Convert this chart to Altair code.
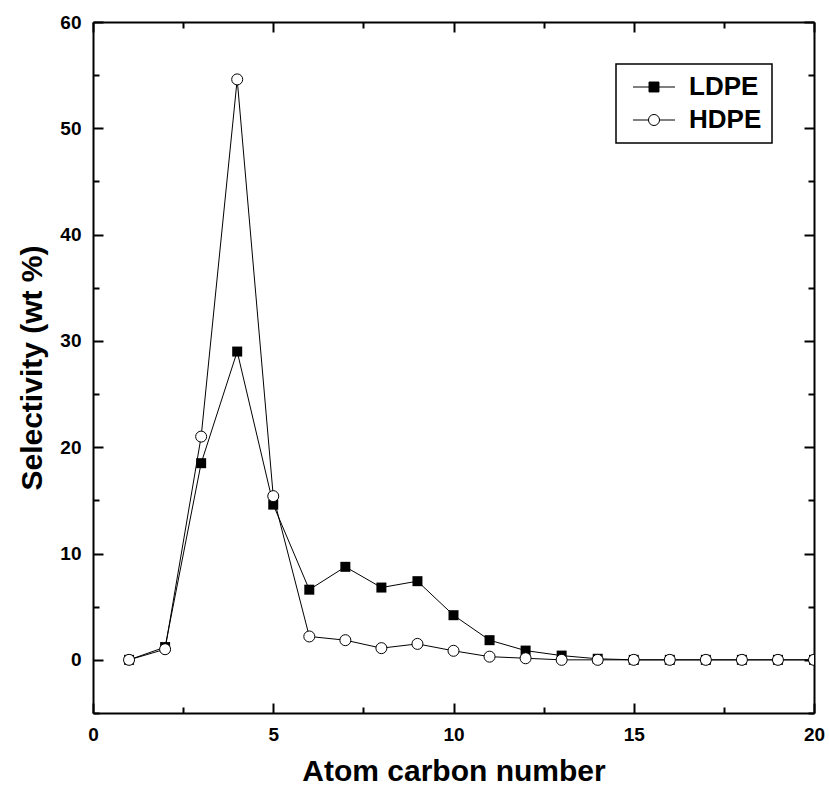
import altair as alt
import pandas as pd

# ---- data ----
carbon_number = list(range(1, 21))
ldpe_selectivity = [0.0, 1.2, 18.5, 29.0, 14.6, 6.6, 8.75, 6.8, 7.4, 4.2,
                    1.85, 0.87, 0.4, 0.1, 0.0, 0.0, 0.0, 0.0, 0.0, 0.0]
hdpe_selectivity = [0.0, 1.0, 21.0, 54.6, 15.4, 2.2, 1.85, 1.1, 1.5, 0.85,
                    0.3, 0.15, 0.0, 0.0, 0.0, 0.0, 0.0, 0.0, 0.0, 0.0]
series_names = ["LDPE", "HDPE"]
x_major_ticks = [0, 5, 10, 15, 20]
x_minor_ticks = [2.5, 7.5, 12.5, 17.5]
y_major_ticks = [0, 10, 20, 30, 40, 50, 60]
y_minor_ticks = [-5, 5, 15, 25, 35, 45, 55]

rows = []
for name, vals in zip(series_names, [ldpe_selectivity, hdpe_selectivity]):
    for c, v in zip(carbon_number, vals):
        rows.append({"carbon": c, "selectivity": v, "series": name})
df = pd.DataFrame(rows)

FONT = "Liberation Sans"
W, H = 721, 691
x_scale = alt.Scale(domain=[0, 20], nice=False, zero=False)
y_scale = alt.Scale(domain=[-5, 60], nice=False, zero=False)


def tick_axis(orient, values, size, domain):
    return alt.Axis(orient=orient, values=values, tickSize={"expr": str(-size)},
                    tickWidth=2, tickColor="black", labels=False, domain=domain,
                    domainColor="black", domainWidth=2, grid=False, title="")


x_axis_main = alt.Axis(orient="bottom", values=x_major_ticks, format="d",
                       tickSize={"expr": "-10"}, tickWidth=2, tickColor="black",
                       domain=True, domainColor="black", domainWidth=2, grid=False,
                       labelFont=FONT, labelFontSize=19, labelFontWeight="bold",
                       labelColor="black", labelPadding=22, labelFlush=False,
                       labelOverlap=False,
                       title="Atom carbon number", titleFont=FONT, titleFontSize=30,
                       titleFontWeight="bold", titleColor="black", titlePadding=12)
y_axis_main = alt.Axis(orient="left", values=y_major_ticks, format="d",
                       tickSize={"expr": "-10"}, tickWidth=2, tickColor="black",
                       domain=True, domainColor="black", domainWidth=2, grid=False,
                       labelFont=FONT, labelFontSize=19, labelFontWeight="bold",
                       labelColor="black", labelPadding=22, labelFlush=False,
                       labelOverlap=False,
                       title="Selectivity (wt %)", titleFont=FONT, titleFontSize=30,
                       titleFontWeight="bold", titleColor="black", titlePadding=12)

# legend symbols: a short line with the marker in its middle
sq_path = "M-3.5,0H-0.83M0.83,0H3.5M-0.83,-0.83H0.83V0.83H-0.83Z"
circ_path = ("M-3.5,0H-0.92M0.92,0H3.5M-0.92,0A0.92,0.92,0,1,0,0.92,0"
             "A0.92,0.92,0,1,0,-0.92,0Z")

legend = alt.Legend(orient="top-right", offset=42, title=None, strokeColor="black",
                    padding=10, symbolSize=144, symbolStrokeColor="black",
                    symbolStrokeWidth=1, labelFont=FONT, labelFontSize=26,
                    labelFontWeight="bold", labelColor="black", rowPadding=7,
                    labelOffset=22, symbolOffset=15)

base = alt.Chart(df)

lines = base.mark_line(color="black", strokeWidth=1, clip=True).encode(
    x=alt.X("carbon:Q", scale=x_scale, axis=x_axis_main),
    y=alt.Y("selectivity:Q", scale=y_scale, axis=y_axis_main),
    detail="series:N",
)

squares = base.transform_filter(alt.datum.series == "LDPE").mark_point(
    shape="square", filled=True, color="black", size=100, opacity=1, clip=True
).encode(
    x=alt.X("carbon:Q", scale=x_scale, axis=tick_axis("bottom", x_minor_ticks, 6, False)),
    y=alt.Y("selectivity:Q", scale=y_scale, axis=tick_axis("left", y_minor_ticks, 6, False)),
)

circles = base.transform_filter(alt.datum.series == "HDPE").mark_point(
    shape="circle", filled=True, fill="white", stroke="black", strokeWidth=1,
    size=121, opacity=1, clip=True
).encode(
    x=alt.X("carbon:Q", scale=x_scale, axis=tick_axis("top", x_major_ticks, 10, True)),
    y=alt.Y("selectivity:Q", scale=y_scale, axis=tick_axis("right", y_major_ticks, 10, True)),
)

legend_layer = base.transform_filter("false").mark_point(
    filled=True, strokeWidth=1, opacity=1
).encode(
    x=alt.X("carbon:Q", scale=x_scale, axis=tick_axis("top", x_minor_ticks, 6, False)),
    y=alt.Y("selectivity:Q", scale=y_scale, axis=tick_axis("right", y_minor_ticks, 6, False)),
    shape=alt.Shape("series:N", scale=alt.Scale(domain=series_names, range=[sq_path, circ_path]),
                    legend=legend),
    fill=alt.Fill("series:N", scale=alt.Scale(domain=series_names, range=["black", "white"]),
                  legend=legend),
    stroke=alt.Stroke("series:N", scale=alt.Scale(domain=series_names, range=["black", "black"]),
                      legend=legend),
)

chart = alt.layer(lines, squares, circles, legend_layer).resolve_axis(
    x="independent", y="independent"
).properties(
    width=W, height=H, autosize="none",
    padding={"left": 93, "top": 22, "right": 15, "bottom": 83},
    background="white",
).configure_view(stroke="transparent").configure_legend(strokeWidth=1.5)

chart.save("out.html", embed_options={"renderer": "svg", "actions": False})
